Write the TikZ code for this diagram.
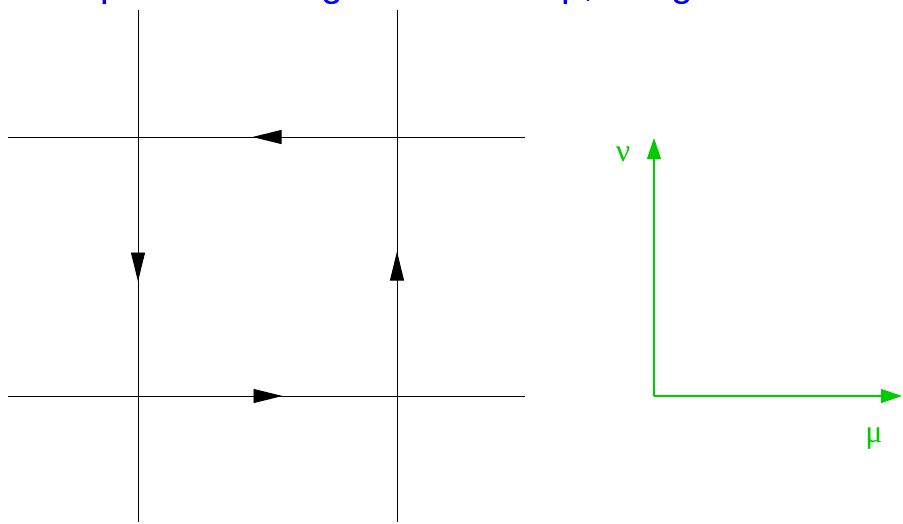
\documentclass[tikz,border=0pt]{standalone}
\usepackage{fontspec}
\setmainfont{Liberation Sans}
\newfontfamily\greekserif{Liberation Serif}
\usetikzlibrary{arrows.meta,calc}
\definecolor{axisgreen}{RGB}{0,204,0}
\tikzset{
  latline/.style={black, line width=0.9pt},
  axisline/.style={axisgreen, line width=1.3pt, -{Triangle[length=21pt,width=14pt]}},
  axislabel/.style={text=axisgreen, font=\greekserif\fontsize{32}{32}\selectfont, inner sep=0pt},
}
\begin{document}
\begin{tikzpicture}[x=1pt,y=-1pt]
\useasboundingbox (0,0) rectangle (903,523);
% title (only descenders visible)
\node[anchor=base west, inner sep=0pt, text=blue, font=\fontsize{39}{39}\selectfont] (title) at (32.8,-3.2) {Simplest Wilson gluon field loop, i.e. ground state};
% lattice
\coordinate (TL) at (138,137);
\coordinate (TR) at (397,137);
\coordinate (BL) at (138,396);
\coordinate (BR) at (397,396);
\coordinate (h1w) at (8,137);   \coordinate (h1e) at (525,137);
\coordinate (h2w) at (8,396);   \coordinate (h2e) at (525,396);
\coordinate (v1n) at (138,10);  \coordinate (v1s) at (138,522);
\coordinate (v2n) at (397,10);  \coordinate (v2s) at (397,522);
\draw[latline] (h1w) -- (h1e);
\draw[latline] (h2w) -- (h2e);
\draw[latline] (v1n) -- (v1s);
\draw[latline] (v2n) -- (v2s);
% circulation arrows
\coordinate (mt) at ($(TL)!0.5!(TR)$);
\coordinate (mb) at ($(BL)!0.5!(BR)$);
\coordinate (ml) at ($(TL)!0.5!(BL)$);
\coordinate (mr) at ($(TR)!0.5!(BR)$);
\draw[latline, -{Triangle[length=29pt,width=14pt]}] ($(mt)+(14.5,0)$) -- ($(mt)+(-15,0)$);
\draw[latline, -{Triangle[length=29pt,width=14pt]}] ($(ml)+(0,-14.5)$) -- ($(ml)+(0,15)$);
\draw[latline, -{Triangle[length=29pt,width=14pt]}] ($(mb)+(-14.5,0)$) -- ($(mb)+(15,0)$);
\draw[latline, -{Triangle[length=29pt,width=14pt]}] ($(mr)+(0,14.5)$) -- ($(mr)+(0,-15)$);
% axes
\coordinate (O) at (654,396);
\coordinate (Ytip) at (654,138);
\coordinate (Xtip) at (902,396);
\draw[axisline] (O) -- (Ytip);
\draw[axisline] (O) -- (Xtip);
\node[axislabel] (nu) at (623,154) {ν};
\node[axislabel] (mu) at (874,439) {μ};
\end{tikzpicture}
\end{document}
